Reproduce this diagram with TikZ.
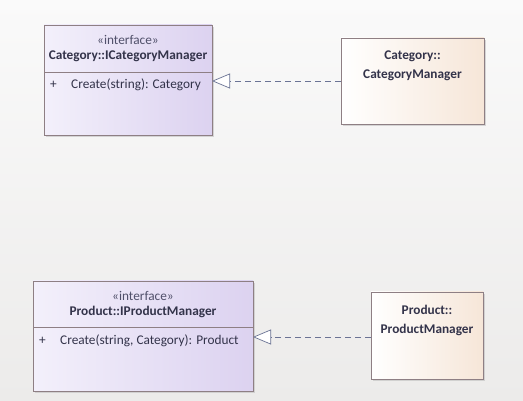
\documentclass[tikz,border=0pt]{standalone}
\usepackage{fontspec}
\setmainfont{Carlito}
\usetikzlibrary{arrows.meta,shadows}
\definecolor{bord}{HTML}{8E7F84}
\definecolor{ifL}{HTML}{F3F0FB}
\definecolor{ifR}{HTML}{DCD2F0}
\definecolor{clL}{HTML}{FFFFFF}
\definecolor{clR}{HTML}{F6E6D8}
\definecolor{txt}{HTML}{33334A}
\definecolor{stereo}{HTML}{50506A}
\definecolor{conn}{HTML}{6A7394}
\definecolor{bgT}{HTML}{FAFAFA}
\definecolor{bgB}{HTML}{ECEBEA}
\tikzset{
  ifbox/.style={draw=bord, line width=0.8pt, left color=ifL, right color=ifR, drop shadow={shadow xshift=2pt, shadow yshift=-2pt, fill=black!25, opacity=0.6}},
  clbox/.style={draw=bord, line width=0.8pt, shading=axis, shading angle=45, left color=clL, right color=clR, drop shadow={shadow xshift=2pt, shadow yshift=-2pt, fill=black!25, opacity=0.6}},
  realize/.style={draw=conn, line width=0.7pt, dash pattern=on 6pt off 4pt, -{Triangle[open, length=18pt, width=15pt, fill=white]}},
  lbl/.style={text=txt, font=\fontsize{13.3}{15}\selectfont, inner sep=0pt},
  bl/.style={lbl, font=\bfseries\fontsize{13.3}{15}\selectfont},
}
\begin{document}
\begin{tikzpicture}[x=1pt,y=-1pt]
\useasboundingbox (0,0) rectangle (523,401);
\shade[top color=bgT, bottom color=bgB] (0,0) rectangle (523,401);
% Category interface
\path[ifbox] (44,25) rectangle (212,135);
\coordinate (icR) at (212,81);
\draw[bord, line width=0.8pt] (44,72) -- (212,72);
\node[lbl, text=stereo] (ics) at (128,40) {«interface»};
\node[bl] (icn) at (128,56) {Category::ICategoryManager};
\node[lbl, anchor=west] (icp) at (50,85) {+};
\node[lbl, anchor=west] (icm) at (71,85) {Create(string): Category};
% Category class
\path[clbox] (341,38) rectangle (484,124);
\coordinate (ccL) at (341,81);
\node[bl, align=center] (ccn) at (412.5,66) {Category::\\[4pt]CategoryManager};
\draw[realize] (ccL) -- (icR);
% Product interface
\path[ifbox] (33,281) rectangle (253,391);
\coordinate (ipR) at (253,337);
\draw[bord, line width=0.8pt] (33,327) -- (253,327);
\node[lbl, text=stereo] (ips) at (143,296) {«interface»};
\node[bl] (ipn) at (143,312) {Product::IProductManager};
\node[lbl, anchor=west] (ipp) at (39,341) {+};
\node[lbl, anchor=west] (ipm) at (60,341) {Create(string, Category): Product};
% Product class
\path[clbox] (371,292) rectangle (483,379);
\coordinate (pcL) at (371,337);
\node[bl, align=center] (pcn) at (427,320) {Product::\\[4pt]ProductManager};
\draw[realize] (pcL) -- (ipR);
\end{tikzpicture}
\end{document}
